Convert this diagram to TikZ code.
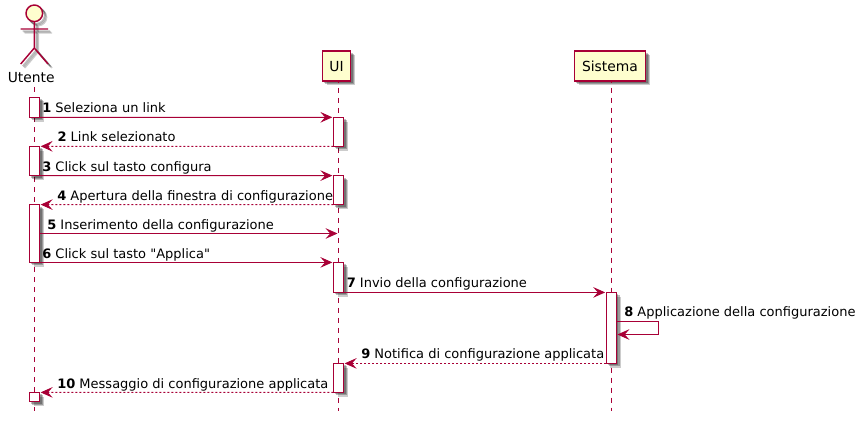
\documentclass[tikz,border=0pt]{standalone}
\usepackage{fontspec}
\setmainfont{DejaVu Sans}
\newfontfamily\plainfont{DejaVu Sans}
\usetikzlibrary{arrows.meta,shadows}
\definecolor{umlred}{HTML}{A80036}
\definecolor{umlfill}{HTML}{FEFECE}
\tikzset{font=\fontsize{9.75}{12}\selectfont}
\tikzset{softshadow/.style={
    general shadow={shadow xshift=1.5pt,shadow yshift=-1.5pt,fill=black,opacity=.25},
    general shadow={shadow xshift=2.3pt,shadow yshift=-2.3pt,fill=black,opacity=.25},
    general shadow={shadow xshift=3.2pt,shadow yshift=-3.2pt,fill=black,opacity=.2}}}
\tikzset{participant/.style={draw=umlred,fill=umlfill,line width=1.1pt,inner sep=0pt,
    minimum height=30*.75pt,font=\fontsize{10.4}{12}\selectfont,softshadow}}
\tikzset{bar/.style={draw=umlred,fill=white,line width=.75pt,inner sep=0pt,outer sep=0pt,
    minimum width=10.3*.75pt,softshadow}}
\tikzset{lifeline/.style={draw=umlred,line width=.75pt,dash pattern=on 3.75pt off 3.75pt}}
\tikzset{msg/.style={draw=umlred,line width=.75pt,shorten >=.75pt,
    -{Stealth[length=9pt,width=8pt,inset=3.5pt]}}}
\tikzset{reply/.style={msg,dash pattern=on 1.5pt off 1.5pt}}
\tikzset{msglabel/.style={anchor=base west,inner sep=0pt}}

\begin{document}
\begin{tikzpicture}[x=.75pt,y=-.75pt]
  \useasboundingbox (0,0) rectangle (866,421);

  % actor figure
  \foreach \d/\o in {2/.25,3/.25,4/.2}
  \draw[black,opacity=\o,line width=1.1pt,shift={(\d,\d)}]
  (34.3,13.3) circle (8.3) (34.3,21.6) -- (34.3,48) (20.7,29) -- (48,29)
  (20.7,64) -- (34.3,48) -- (48,64);
  \draw[umlred,fill=umlfill,line width=1.1pt] (34.3,13.3) circle (8.3);
  \draw[umlred,line width=1.1pt] (34.3,21.6) -- (34.3,48) (20.7,29) -- (48,29)
  (20.7,64) -- (34.3,48) -- (48,64);

  \node[inner sep=0pt,minimum height=18*.75pt,font=\fontsize{10.4}{12}\selectfont] (utente) at (31.2,78) {Utente};
  \node[participant,minimum width=28.4*.75pt] (ui) at (336.5,66.2) {UI};
  \node[participant,minimum width=71.4*.75pt] (sistema) at (610,66) {Sistema};

  \coordinate (utenteend) at (34.3,411);
  \coordinate (uiend) at (338.5,411);
  \coordinate (sistemaend) at (611.3,411);

  \draw[lifeline] (utente.south -| utenteend) -- (utenteend);
  \draw[lifeline,dash phase=3pt] (ui.south -| uiend) -- (uiend);
  \draw[lifeline,dash phase=3pt] (sistema.south -| sistemaend) -- (sistemaend);

  % activation bars
  \foreach \name/\x/\ya/\yb in {
    u1/34.5/97/117.3,u2/34.5/146.3/175.6,u3/34.5/204.6/262.4,u4/34.5/392.4/401.6,
    i1/338.5/117.3/146.3,i2/338.5/175.6/204.6,i3/338.5/262.4/292.4,i4/338.5/363.4/392.4,
    s1/611.3/292.4/363.4}
  \node[bar,minimum height={(\yb-\ya)*.75pt}] (\name) at (\x,{(\ya+\yb)/2}) {};

  % messages
  \coordinate (m5end) at (338.5,233.5);
  \coordinate (selfa) at (658.5,321.5);
  \coordinate (selfb) at (658.5,334.5);

  \draw[msg] (u1.south east) -- (i1.north west);
  \draw[reply] (i1.south west) -- (u2.north east);
  \draw[msg] (u2.south east) -- (i2.north west);
  \draw[reply] (i2.south west) -- (u3.north east);
  \draw[msg] (u3.east |- m5end) -- (m5end);
  \draw[msg] (u3.south east) -- (i3.north west);
  \draw[msg] (i3.south east) -- (s1.north west);
  \draw[msg] (s1.east |- selfa) -- (selfa) -- (selfb) -- (s1.east |- selfb);
  \draw[reply] (s1.south west) -- (i4.north east);
  \draw[reply] (i4.south west) -- (u4.north east);

  \node[msglabel] (l1) at (42,112.3) {\textbf{1} Seleziona un link};
  \node[msglabel] (l2) at (57.3,141.5) {\textbf{2} Link selezionato};
  \node[msglabel] (l3) at (42,171) {\textbf{3} Click sul tasto configura};
  \node[msglabel] (l4) at (57,200) {\textbf{4} Apertura della finestra di configurazione};
  \node[msglabel] (l5) at (47,229.3) {\textbf{5} Inserimento della configurazione};
  \node[msglabel] (l6) at (42,258.3) {\textbf{6} Click sul tasto {\plainfont"Applica"}};
  \node[msglabel] (l7) at (346.5,287.8) {\textbf{7} Invio della configurazione};
  \node[msglabel] (l8) at (624,316.8) {\textbf{8} Applicazione della configurazione};
  \node[msglabel] (l9) at (361,358.8) {\textbf{9} Notifica di configurazione applicata};
  \node[msglabel] (l10) at (57,388.3) {\textbf{10} Messaggio di configurazione applicata};
\end{tikzpicture}
\end{document}
